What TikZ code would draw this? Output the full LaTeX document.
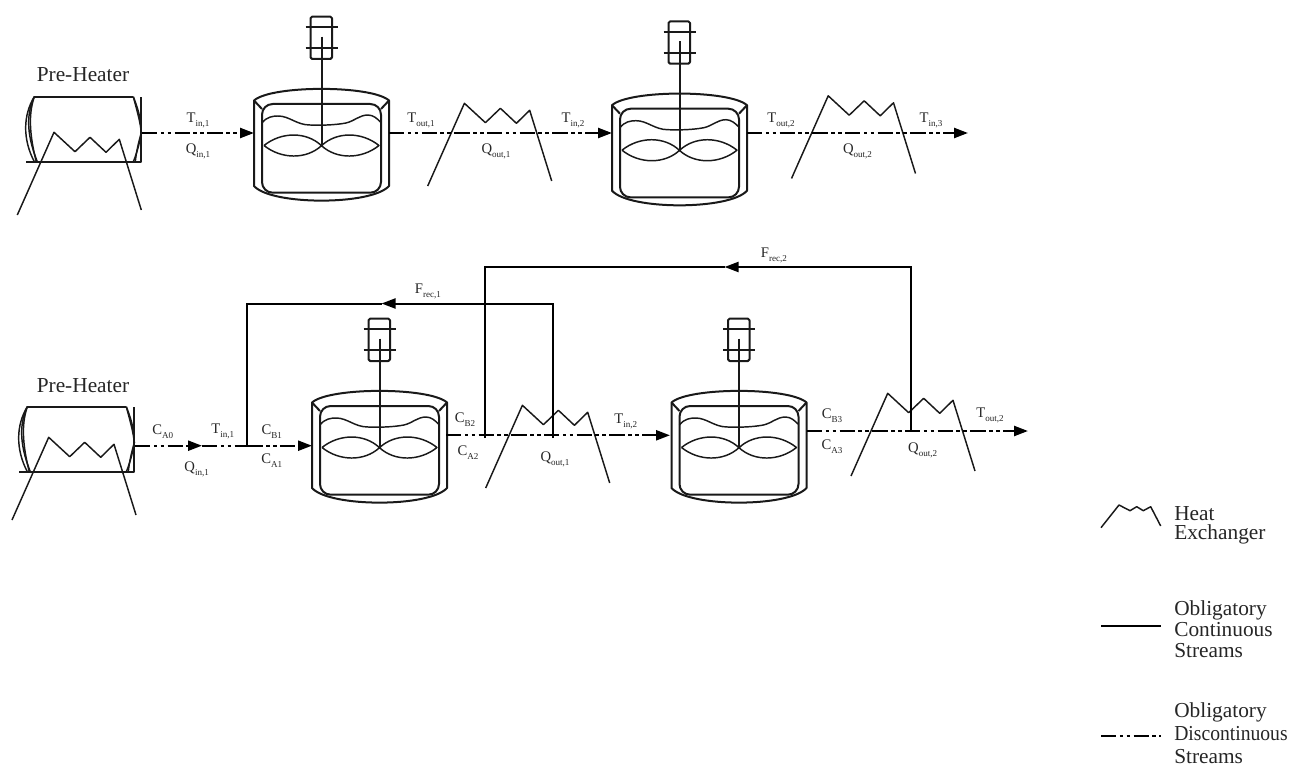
\documentclass[tikz,border=0pt]{standalone}
\usepackage{fontspec}
\setmainfont{Liberation Serif}
\usetikzlibrary{arrows.meta}
\newcommand{\strm}[2]{{\fontsize{11}{12}\selectfont #1\raisebox{-0.28em}{\fontsize{6.8}{7}\selectfont #2}}}
\tikzset{
  x=0.75pt,y=-0.75pt,
  ink/.style={draw=black!90,line width=1.5pt,line join=round},
  thin ink/.style={draw=black!90,line width=1.1pt,line join=round},
  disc/.style={draw=black,line width=1.75pt,dash pattern=on 11.5pt off 2.6pt on 2.6pt off 2.6pt on 2.6pt off 2.6pt},
  cont/.style={draw=black,line width=1.5pt,line join=miter},
  flow/.style={-{Triangle[length=10.5pt,width=7.5pt]}},
  lbl/.style={inner sep=0pt,text=black!85},
  big/.style={inner sep=0pt,text=black!85,font=\fontsize{16}{18}\selectfont},
  legend/.style={inner sep=0pt,anchor=west,align=left,text=black!85},
  pics/reactor/.style={code={
    \draw[ink] (-67.5,12.5) .. controls (-50,-3) and (50,-3) .. (67.5,12.5) -- (67.5,98)
      .. controls (50,117.5) and (-50,117.5) .. (-67.5,98) -- cycle;
    \draw[ink] (-67.5,12.5) -- (-59.5,21) (67.5,12.5) -- (59.5,21);
    \draw[ink,rounded corners=8pt] (-59.5,16) rectangle (59.5,104.7);
    \draw[thin ink] (-59.5,35) .. controls (-55,29) and (-49,28) .. (-43.5,28)
      .. controls (-32,28) and (-25,37) .. (-11.5,37)
      .. controls (0,37.5) and (14,37) .. (24.5,35)
      .. controls (33,33) and (38,27) .. (46.5,27)
      .. controls (52,27) and (56,31) .. (59,34);
    \draw[thin ink] (-57.5,57.5) .. controls (-40,43.5) and (-15,43.5) .. (0,57.7)
      .. controls (15,43.5) and (40,43.5) .. (57.5,57.5)
      .. controls (40,71.5) and (15,71.5) .. (0,57.7)
      .. controls (-15,71.5) and (-40,71.5) .. (-57.5,57.5);
    \draw[ink,rounded corners=1.2pt] (-11,-71.3) rectangle (10.5,-29);
    \draw[ink] (-16,-60.7) -- (16,-60.7) (-16,-39.7) -- (16,-39.7);
    \draw[ink] (0,-51.3) -- (0,57.7);
  }},
  pics/heaterbody/.style={code={
    \draw[ink] (-8,65) -- (107,65) -- (107,0);
    \draw[ink] (0,0) -- (99,0);
    \draw[thin ink] (0,0) .. controls (-11,18) and (-12,42) .. (0,65);
    \draw[thin ink] (0,0) .. controls (-7,15) and (-9,35) .. (3,65);
    \draw[thin ink] (0,0) .. controls (-4,12) and (-7,30) .. (2,65);
    \draw[thin ink] (99,0) .. controls (103,10) and (107,22) .. (107,36) .. controls (105,48) and (102,58) .. (99,65);
    \draw[thin ink] (99,0) .. controls (103,15) and (106,25) .. (107,36) .. controls (104,47) and (102,55) .. (101,65);
  }},
  pics/exchanger/.style={code={
    \draw[thin ink] (0,0) -- (36.7,-82.7) -- (57.7,-63.3) -- (72.7,-77.7) -- (88.7,-62.7) -- (102,-75.7) -- (124,-5);
  }},
}
\begin{document}
\begin{tikzpicture}
\useasboundingbox (0,0) rectangle (1290,767);

% ---------- upper line ----------
\pic (ph1) at (34.3,96.7) {heaterbody};
\pic (phx1) at (17.3,215) {exchanger};
\pic (ra) at (321.5,88) {reactor};
\pic (rb) at (679.5,92.7) {reactor};
\pic (hxa) at (427.7,186) {exchanger};
\pic (hxb) at (791.5,178.5) {exchanger};
\node[big] (preA) at (83,75) {Pre-Heater};

\coordinate (ph1out) at (142,133);
\coordinate (raIn) at (254,133);
\coordinate (raOut) at (389,133);
\coordinate (rbIn) at (612,133);
\coordinate (rbOut) at (747,133);
\coordinate (endA) at (968,133);
\draw[disc,flow] (ph1out) -- (raIn);
\draw[disc,flow] (raOut) -- (rbIn);
\draw[disc,flow] (rbOut) -- (endA);

\node[lbl] (a1) at (198,120) {\strm{T}{in,1}};
\node[lbl] (a2) at (198,151) {\strm{Q}{in,1}};
\node[lbl] (a3) at (421,120) {\strm{T}{out,1}};
\node[lbl] (a4) at (496,151) {\strm{Q}{out,1}};
\node[lbl] (a5) at (573,120) {\strm{T}{in,2}};
\node[lbl] (a6) at (781,120) {\strm{T}{out,2}};
\node[lbl] (a7) at (857.5,151) {\strm{Q}{out,2}};
\node[lbl] (a8) at (931,120) {\strm{T}{in,3}};

% ---------- lower line ----------
\pic (ph2) at (27.3,406.7) {heaterbody};
\pic (phx2) at (12,520) {exchanger};
\pic (rc) at (379.5,390) {reactor};
\pic (rd) at (739,390) {reactor};
\pic (hxc) at (485.7,488) {exchanger};
\pic (hxd) at (851,476) {exchanger};
\node[big] (preB) at (83,386) {Pre-Heater};

\coordinate (ph2out) at (135,445.7);
\coordinate (midTip) at (202,445.7);
\coordinate (jA) at (247.3,445.7);
\coordinate (rcIn) at (312,445.7);
\coordinate (rcOut) at (446,435.3);
\coordinate (rdIn) at (670,435.3);
\coordinate (rdOut) at (807,431);
\coordinate (jD) at (911,431);
\coordinate (endB) at (1028,431);
\coordinate (jBtail) at (485.4,438);
\coordinate (jCtail) at (552.7,438);
\coordinate (topA1) at (247.3,303.5);
\coordinate (topA2) at (552.7,303.5);
\coordinate (tipA) at (381.5,303.5);
\coordinate (topB1) at (485.4,267);
\coordinate (topB2) at (911,267);
\coordinate (tipB) at (724.5,267);

\draw[disc,flow] (ph2out) -- (midTip);
\draw[disc] (midTip) -- (jA);
\draw[disc,flow] (jA) -- (rcIn);
\draw[disc,flow] (rcOut) -- (rdIn);
\draw[disc,flow] (rdOut) -- (endB);

\draw[cont] (jA) -- (topA1) -- (tipA);
\draw[cont,flow] (jCtail) -- (topA2) -- (tipA);
\draw[cont] (jBtail) -- (topB1) -- (tipB);
\draw[cont,flow] (jD) -- (topB2) -- (tipB);

\node[lbl] (b1) at (162.7,431.7) {\strm{C}{A0}};
\node[lbl] (b2) at (222.7,431.7) {\strm{T}{in,1}};
\node[lbl] (b3) at (196.7,469) {\strm{Q}{in,1}};
\node[lbl] (b4) at (271.7,431.7) {\strm{C}{B1}};
\node[lbl] (b5) at (271.7,460.7) {\strm{C}{A1}};
\node[lbl] (b6) at (465,420) {\strm{C}{B2}};
\node[lbl] (b7) at (468,453) {\strm{C}{A2}};
\node[lbl] (b8) at (555,459) {\strm{Q}{out,1}};
\node[lbl] (b9) at (625.8,421) {\strm{T}{in,2}};
\node[lbl] (b10) at (832,415.7) {\strm{C}{B3}};
\node[lbl] (b11) at (832,446.7) {\strm{C}{A3}};
\node[lbl] (b12) at (922.7,450.7) {\strm{Q}{out,2}};
\node[lbl] (b13) at (990,415.7) {\strm{T}{out,2}};
\node[lbl] (b14) at (428,291) {\strm{F}{rec,1}};
\node[lbl] (b15) at (774,255) {\strm{F}{rec,2}};

% ---------- legend ----------
\coordinate (legA) at (1101,626);
\coordinate (legB) at (1160.5,626);
\coordinate (legC) at (1101,736);
\coordinate (legD) at (1160.5,736);
\draw[thin ink] (1101,527.7) -- (1119,505) -- (1130,510.7) -- (1136.7,506.7) -- (1143.3,510.7) -- (1150.7,506.7) -- (1160.7,526);
\draw[cont] (legA) -- (legB);
\draw[disc] (legC) -- (legD);
\node[legend,font=\fontsize{16}{14.25}\selectfont] (l1) at (1174,525) {Heat\\Exchanger};
\node[legend,font=\fontsize{16}{15.75}\selectfont] (l2) at (1174,629.5) {Obligatory\\Continuous\\Streams};
\node[legend,font=\fontsize{16}{17.2}\selectfont] (l3) at (1174,733.5) {Obligatory\\\scalebox{0.92}[1]{Discontinuous}\\Streams};
\end{tikzpicture}
\end{document}
